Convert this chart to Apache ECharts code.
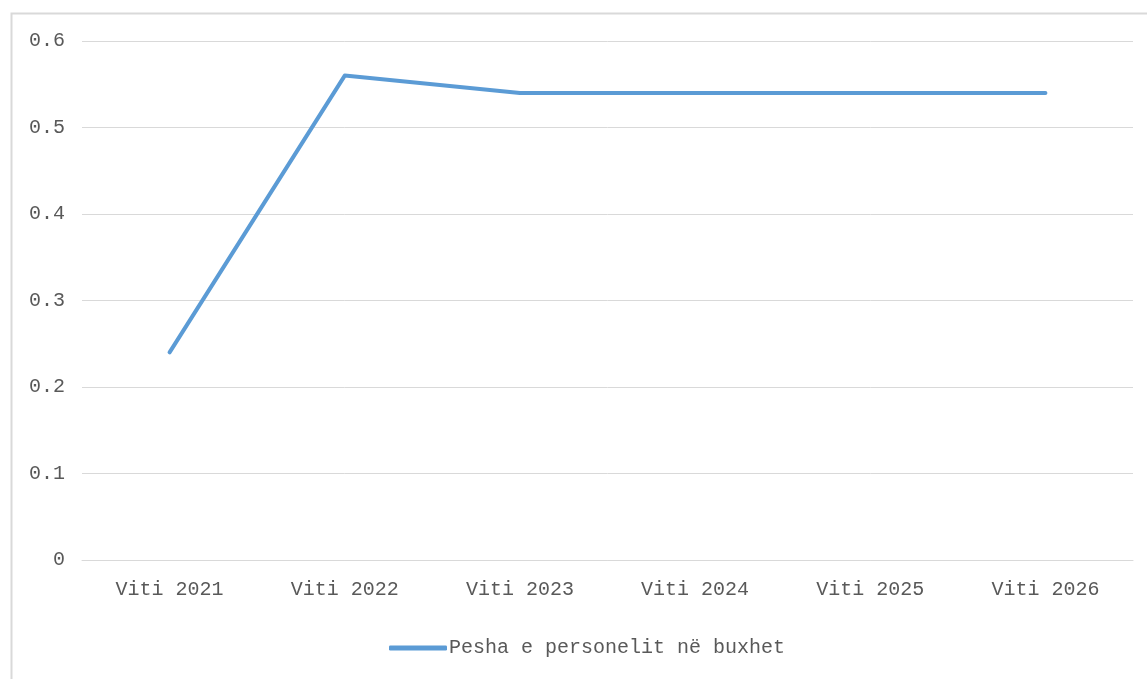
<!DOCTYPE html>
<html><head><meta charset="utf-8">
<script src="https://cdn.jsdelivr.net/npm/echarts@6/dist/echarts.min.js"></script>
<style>html,body{margin:0;padding:0;background:#fff}#c{width:1147px;height:679px}</style>
</head><body><div id="c"></div>
<script>
const categories = ['Viti 2021','Viti 2022','Viti 2023','Viti 2024','Viti 2025','Viti 2026'];
const seriesName = 'Pesha e personelit në buxhet';
const values = [0.24, 0.56, 0.54, 0.54, 0.54, 0.54];

const FONT = '"Liberation Mono", monospace';
const chart = echarts.init(document.getElementById('c'));
chart.setOption({
  animation: false,
  backgroundColor: '#fff',
  textStyle: { fontFamily: FONT },
  graphic: [{ type: 'rect', left: 9, top: 11, shape: { width: 1150, height: 680 }, style: { fill: 'none', stroke: '#d9d9d9', lineWidth: 2 }, silent: true }],
  grid: { left: 82, right: 14, top: 41, bottom: 119, containLabel: false },
  legend: {
    data: [seriesName], left: 384, top: 633, itemWidth: 58, itemHeight: 5, itemGap: 6,
    icon: 'roundRect',
    textStyle: { fontFamily: FONT, fontSize: 20, color: '#595959', padding: [0,0,0,-3] }
  },
  xAxis: {
    type: 'category', data: categories, boundaryGap: true,
    axisLine: { show: true, lineStyle: { color: '#d9d9d9', width: 1 } },
    axisTick: { show: false },
    axisLabel: { fontFamily: FONT, fontSize: 20, color: '#595959', margin: 20 }
  },
  yAxis: {
    type: 'value', min: 0, max: 0.6, interval: 0.1,
    axisLine: { show: false }, axisTick: { show: false },
    splitLine: { lineStyle: { color: '#d9d9d9', width: 1 } },
    axisLabel: { fontFamily: FONT, fontSize: 20, color: '#595959', margin: 17, formatter: v => v === 0 ? '0' : v.toFixed(1) }
  },
  series: [{
    name: seriesName, type: 'line', data: values, symbol: 'none',
    lineStyle: { color: '#5b9bd5', width: 4, cap: 'round', join: 'round' },
    itemStyle: { color: '#5b9bd5' }
  }]
});
</script></body></html>
